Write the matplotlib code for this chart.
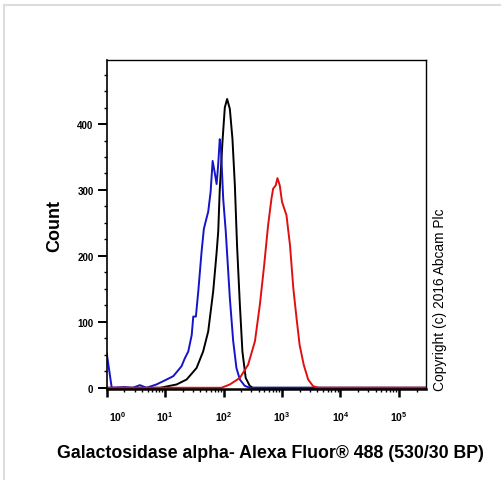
import matplotlib
matplotlib.use("Agg")
import matplotlib.pyplot as plt
import matplotlib.transforms as mtransforms
from matplotlib.patches import Rectangle
from matplotlib.ticker import FixedLocator, LogLocator, MultipleLocator

plt.rcParams['font.family'] = ['Liberation Sans', 'DejaVu Sans']
plt.rcParams['mathtext.default'] = 'regular'

# histogram traces (fluorescence, count)
blue_x = [1.0, 1.22, 2.0, 2.8, 3.7, 4.8, 7.1, 10.6, 13.8, 19.1, 21.8, 24.9, 28.5, 30.3, 33.6,
          36.9, 42, 46, 51, 54.6, 60, 65, 71, 76, 80.7, 86, 90, 98.5, 109, 128, 146,
          166, 190, 230, 280, 3e5]
blue_y = [53, 0, 1, 0, 4, 0, 5, 12.5, 17.6, 32.7, 45, 55, 80, 108, 108,
          146, 206, 241, 257, 267, 297, 344, 325, 309, 337, 377, 365, 287, 237, 136, 71,
          30, 12.5, 3, 0, 0]

black_x = [1.0, 8.2, 15.7, 23.3, 34.5, 44.7, 54.6, 66.4, 76, 81, 86, 96, 105, 115, 128,
           142, 156, 170, 190, 210, 239, 280, 315, 3e5]
black_y = [0, 0, 5, 12.5, 30, 55, 85.5, 146, 205, 237, 300, 375, 425, 438, 423,
           377, 307, 216, 126, 55, 15, 3, 0, 0]

red_x = [1.0, 92, 128, 190, 263, 344, 418, 495, 577, 660, 705, 780, 835, 915, 1000,
         1090, 1190, 1370, 1560, 1770, 2000, 2350, 2800, 3400, 4180, 3e5]
red_y = [0, 0, 5, 15, 35, 70.5, 126, 186, 246, 287, 302, 307, 318, 307, 282,
         272, 262, 216, 151, 106, 65, 35, 12.5, 2.5, 0, 0]

x_major = [1, 10, 100, 1000, 10000, 100000]
x_labels = [r'$10^{%d}$' % i for i in range(6)]
y_major = [0, 100, 200, 300, 400]

fig = plt.figure(figsize=(5.02, 4.81), dpi=100)
ax = fig.add_axes([0.2125, 0.189, 0.636, 0.684])

ax.plot(black_x, black_y, color='black', lw=1.4)
ax.plot(blue_x, blue_y, color='#1414c8', lw=1.4)
ax.plot(red_x, red_y, color='#e01010', lw=1.4)

ax.set_xscale('log')
ax.set_xlim(1, 2.9e5)
ax.set_ylim(-2, 497)

ax.xaxis.set_major_locator(FixedLocator(x_major))
ax.set_xticklabels(x_labels)
ax.xaxis.set_minor_locator(LogLocator(base=10, subs=range(2, 10), numticks=20))
ax.xaxis.set_minor_formatter(plt.NullFormatter())
ax.set_yticks(y_major)
ax.yaxis.set_minor_locator(MultipleLocator(25))

ax.tick_params(axis='x', which='major', direction='out', length=5.5, width=1.8, pad=9,
               labelsize=7.5)
ax.tick_params(axis='x', which='minor', direction='out', length=2.5, width=1.0)
ax.tick_params(axis='y', which='major', direction='out', length=6.5, width=1.4, pad=3,
               labelsize=7)
ax.tick_params(axis='y', which='minor', direction='out', length=2.4, width=1.0)
for lab in ax.get_xticklabels() + ax.get_yticklabels():
    lab.set_fontweight('bold')

# first decade label sits a bit right of the axis start
first = ax.get_xticklabels()[0]
first.set_transform(first.get_transform() +
                    mtransforms.ScaledTranslation(0.11, 0, fig.dpi_scale_trans))

for s in ['top', 'right']:
    ax.spines[s].set_linewidth(1.0)
ax.spines['left'].set_linewidth(1.2)
ax.spines['bottom'].set_linewidth(1.8)

fig.text(0.11, 0.53, 'Count', rotation=90, ha='center', va='center',
         fontsize=13, fontweight='bold')
fig.text(0.538, 0.058, 'Galactosidase alpha- Alexa Fluor\u00ae 488 (530/30 BP)',
         ha='center', va='center', fontsize=12.8, fontweight='bold')
fig.text(0.877, 0.187, 'Copyright (c) 2016 Abcam Plc', rotation=90,
         ha='center', va='bottom', fontsize=9.9)

fig.add_artist(Rectangle((4 / 502, -0.1), 1.2, 0.1 + (481 - 5.5) / 481,
                         transform=fig.transFigure, fill=False,
                         edgecolor='#dcdcdc', lw=1.5))

fig.savefig('out.png', dpi=100)
